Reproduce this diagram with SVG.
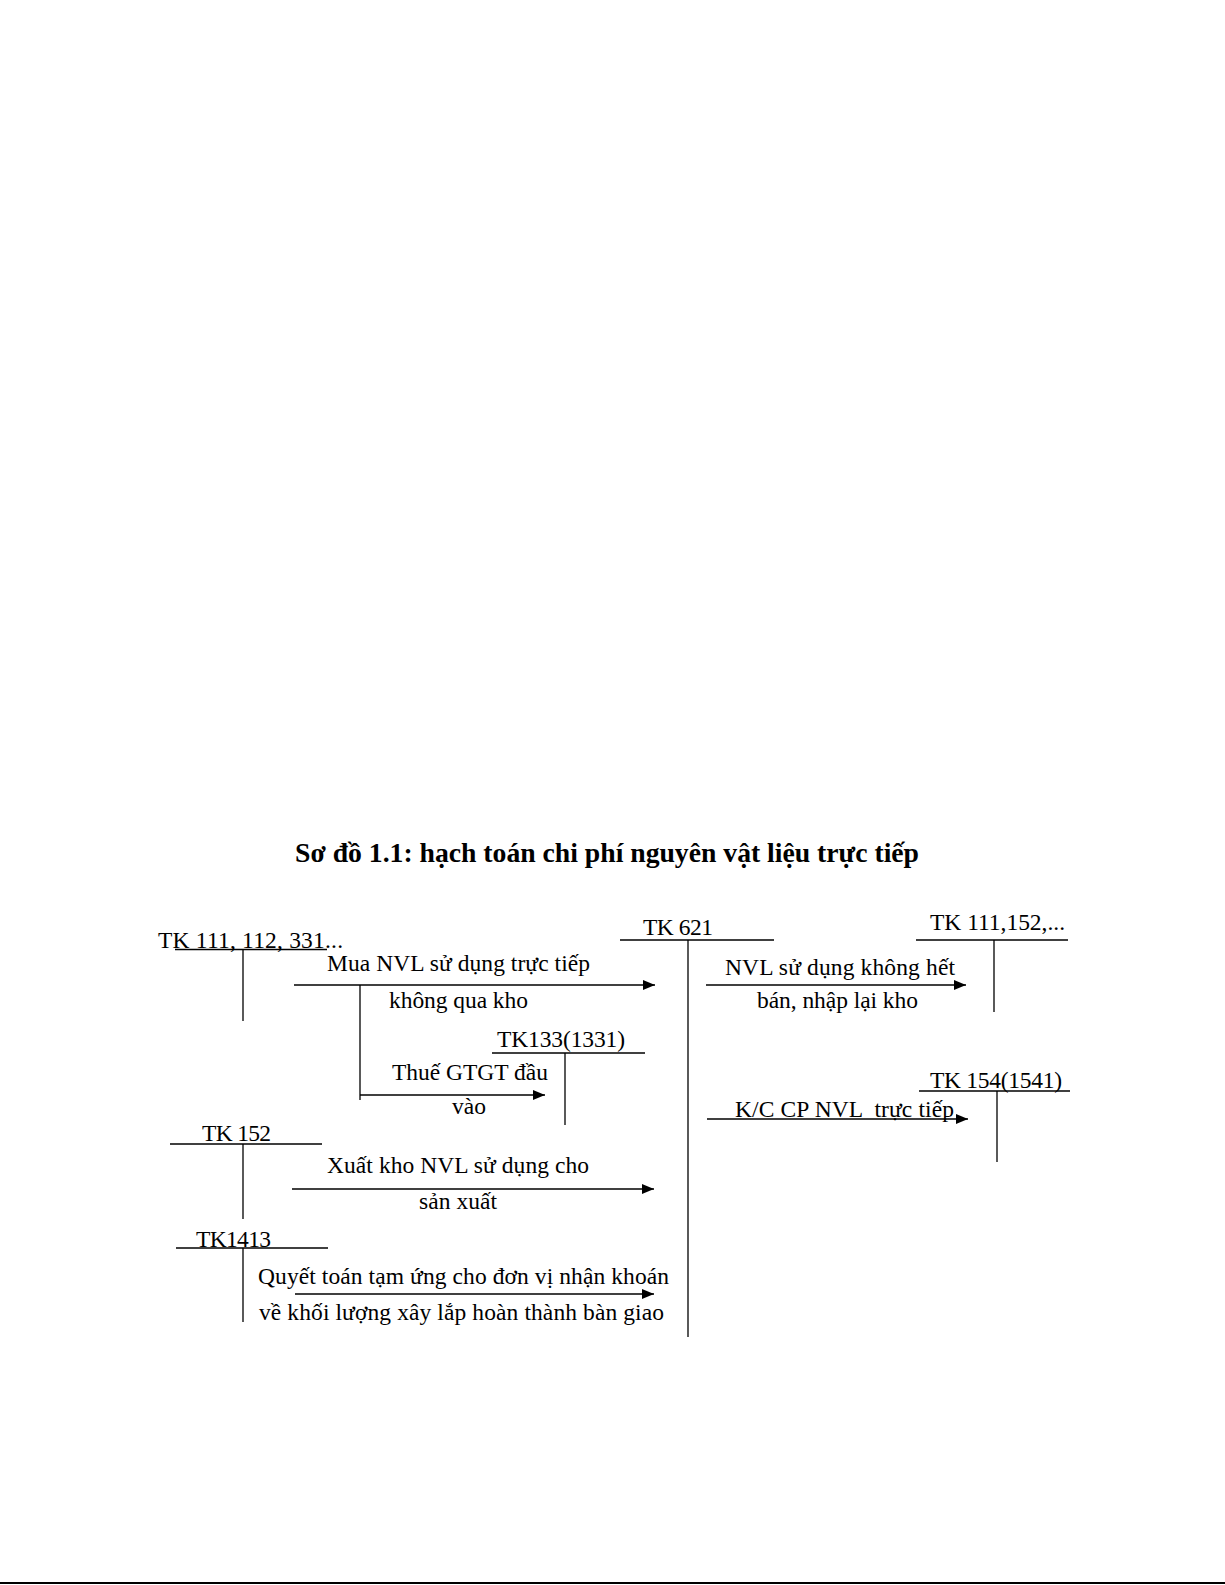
<svg xmlns="http://www.w3.org/2000/svg" width="1225" height="1585" viewBox="0 0 1225 1585">
<style>
  .t { font-family: "Liberation Serif", "Times New Roman", serif; font-size: 23.5px; fill: #000; }
  .title { font-family: "Liberation Serif", "Times New Roman", serif; font-size: 27px; font-weight: bold; fill: #000; }
  .ln { stroke: #000; stroke-width: 1.3; fill: none; }
  .arr { stroke: #000; stroke-width: 1.3; fill: none; marker-end: url(#ah); }
</style>
<defs>
  <marker id="ah" markerUnits="userSpaceOnUse" markerWidth="13" markerHeight="11" refX="12" refY="5" orient="auto">
    <path d="M0,0 L12,5 L0,10 Z" fill="#000"/>
  </marker>
</defs>
<rect x="0" y="0" width="1225" height="1585" fill="#fff"/>

<text id="title" class="title" x="295" y="862" textLength="624" lengthAdjust="spacingAndGlyphs">Sơ đồ 1.1: hạch toán chi phí nguyên vật liệu trực tiếp</text>

<g id="tk111_112_331">
  <line class="ln" x1="175" y1="949.5" x2="327" y2="949.5"/>
  <line class="ln" x1="243" y1="949.5" x2="243" y2="1021"/>
  <text class="t" x="158" y="948" textLength="185">TK 111, 112, 331...</text>
</g>

<g id="tk133">
  <line class="ln" x1="492" y1="1053" x2="645" y2="1053"/>
  <line class="ln" x1="565" y1="1053" x2="565" y2="1125"/>
  <text class="t" x="497" y="1047" textLength="128">TK133(1331)</text>
</g>

<g id="tk621">
  <line class="ln" x1="620" y1="940" x2="774" y2="940"/>
  <line class="ln" x1="688" y1="940" x2="688" y2="1337"/>
  <text class="t" x="643" y="935" textLength="70">TK 621</text>
</g>

<g id="tk111_152">
  <line class="ln" x1="916" y1="940" x2="1068" y2="940"/>
  <line class="ln" x1="994" y1="940" x2="994" y2="1012"/>
  <text class="t" x="930" y="930" textLength="135">TK 111,152,...</text>
</g>

<g id="tk154">
  <line class="ln" x1="919" y1="1091" x2="1070" y2="1091"/>
  <line class="ln" x1="997" y1="1091" x2="997" y2="1162"/>
  <text class="t" x="930" y="1088" textLength="132">TK 154(1541)</text>
</g>

<g id="tk152">
  <line class="ln" x1="170" y1="1144" x2="322" y2="1144"/>
  <line class="ln" x1="243" y1="1144" x2="243" y2="1219"/>
  <text class="t" x="202" y="1140.5" textLength="69">TK 152</text>
</g>

<g id="tk1413">
  <line class="ln" x1="176" y1="1248" x2="328" y2="1248"/>
  <line class="ln" x1="243" y1="1248" x2="243" y2="1322"/>
  <text class="t" x="196" y="1246.5" textLength="75">TK1413</text>
</g>

<g id="connectors">
  <line class="arr" x1="294" y1="985" x2="655" y2="985"/>
  <line class="ln" x1="360" y1="985" x2="360" y2="1100"/>
  <line class="arr" x1="360" y1="1095" x2="545" y2="1095"/>
  <line class="arr" x1="706" y1="985" x2="966" y2="985"/>
  <line class="arr" x1="707" y1="1119" x2="968" y2="1119"/>
  <line class="arr" x1="292" y1="1189" x2="654" y2="1189"/>
  <line class="arr" x1="295" y1="1294" x2="654" y2="1294"/>
</g>

<g id="labels">
  <text class="t" x="327" y="971" textLength="263">Mua NVL sử dụng trực tiếp</text>
  <text class="t" x="389" y="1008" textLength="139">không qua kho</text>
  <text class="t" x="392" y="1080" textLength="156">Thuế GTGT đầu</text>
  <text class="t" x="452" y="1114" textLength="34">vào</text>
  <text class="t" x="725" y="975" textLength="230">NVL sử dụng không hết</text>
  <text class="t" x="757" y="1008" textLength="161">bán, nhập lại kho</text>
  <text class="t" x="735" y="1117" textLength="219" xml:space="preserve">K/C CP NVL  trực tiếp</text>
  <text class="t" x="327" y="1173" textLength="262">Xuất kho NVL sử dụng cho</text>
  <text class="t" x="419" y="1209" textLength="78">sản xuất</text>
  <text class="t" x="258" y="1284" textLength="411">Quyết toán tạm ứng cho đơn vị nhận khoán</text>
  <text class="t" x="259" y="1320" textLength="405">về khối lượng xây lắp hoàn thành bàn giao</text>
</g>

<line id="page-bottom" x1="0" y1="1583" x2="1225" y2="1583" stroke="#000" stroke-width="2"/>
</svg>
